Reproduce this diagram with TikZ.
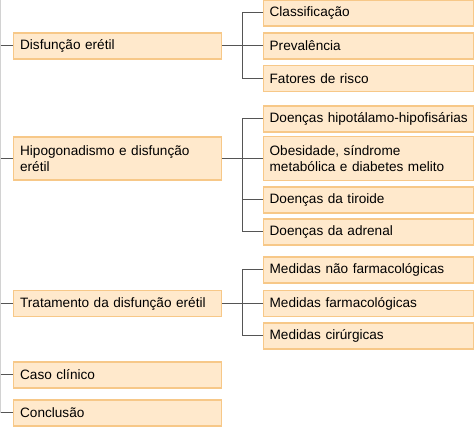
\documentclass[tikz,border=0pt]{standalone}
\usepackage{fontspec}
\setmainfont{Liberation Sans}
\usetikzlibrary{calc}
\definecolor{boxfill}{RGB}{255,233,204}
\definecolor{boxline}{RGB}{247,200,136}
\definecolor{linkgray}{RGB}{85,85,85}

\begin{document}
\begin{tikzpicture}[x=1pt,y=-1pt,
    box/.style={draw=boxline,fill=boxfill,line width=1.3pt,anchor=west,
      minimum height=26pt,inner xsep=6.5pt,inner ysep=3pt,align=left,
      font=\fontsize{13.6}{16.5}\selectfont},
    lbox/.style={box,text width=195pt,minimum width=208pt},
    rbox/.style={box,text width=198pt,minimum width=210pt,inner xsep=6pt},
    link/.style={draw=linkgray,line width=1pt}]
      \useasboundingbox (0,0) rectangle (474,427);
      % left column
      \begin{scope}
        \node[lbox] (dis) at (13,46) {Disfunção erétil};
        \node[lbox,minimum height=43pt] (hipo) at (13,158.5) {Hipogonadismo e disfunção\\erétil};
        \node[lbox] (trat) at (13,303.5) {Tratamento da disfunção erétil};
        \node[lbox] (caso) at (13,375) {Caso clínico};
        \node[lbox] (conc) at (13,413) {Conclusão};
      \end{scope}
      % right column
      \begin{scope}
        \node[rbox] (cla) at (263,13) {Classificação};
        \node[rbox] (pre) at (263,46) {Prevalência};
        \node[rbox] (fat) at (263,78.5) {Fatores de risco};
        \node[rbox] (hh) at (263,119) {\mbox{Doenças hipotálamo-hipofisárias}};
        \node[rbox,minimum height=44pt] (obe) at (263,158.5) {Obesidade, síndrome\\metabólica e diabetes melito};
        \node[rbox] (tir) at (263,200) {Doenças da tiroide};
        \node[rbox] (adr) at (263,232) {Doenças da adrenal};
        \node[rbox] (nfar) at (263,270) {Medidas não farmacológicas};
        \node[rbox] (far) at (263,303.5) {Medidas farmacológicas};
        \node[rbox] (cir) at (263,336) {Medidas cirúrgicas};
      \end{scope}
      % left spine
      \coordinate (top) at (0.5,0);
      \draw[draw=gray!35,line width=1pt] (top) |- (conc.west);
      \foreach \n in {dis,hipo,trat,caso,conc}
        \draw[link] (\n.west -| top) -- (\n.west);
      % branches
      \coordinate (j1) at ($(dis.east)!0.5!(pre.west)$);
      \draw[link] (dis.east) -- (pre.west);
      \draw[link] (cla.west) -| (j1) |- (fat.west);
      \coordinate (j2) at ($(hipo.east)!0.5!(obe.west)$);
      \draw[link] (hipo.east) -- (obe.west);
      \draw[link] (hh.west) -| (j2) |- (adr.west);
      \draw[link] (tir.west) -| (j2);
      \coordinate (j3) at ($(trat.east)!0.5!(far.west)$);
      \draw[link] (trat.east) -- (far.west);
      \draw[link] (nfar.west) -| (j3) |- (cir.west);
    \end{tikzpicture}
\end{document}
